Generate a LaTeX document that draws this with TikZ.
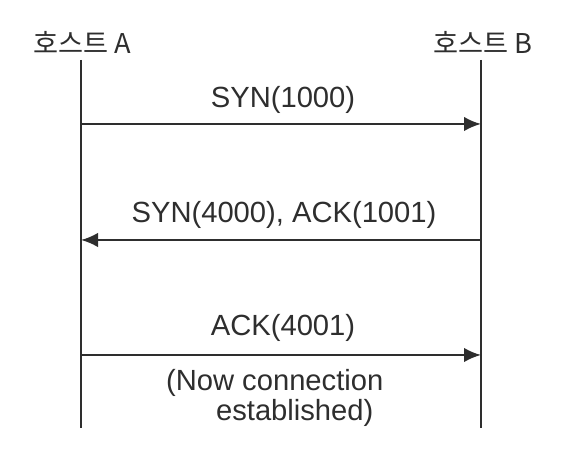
\documentclass[tikz,border=0pt]{standalone}
\usepackage{fontspec}
\setmainfont{Liberation Sans}
\newfontfamily\kr{Noto Sans CJK KR}
\usepackage{tikz}
\usetikzlibrary{arrows.meta,positioning}

\definecolor{inkgray}{HTML}{2E2E2E}

\begin{document}
\begin{tikzpicture}[
    hostlabel/.style={text=inkgray, inner sep=1pt, font=\kr\fontsize{15.5}{17}\selectfont},
    msglabel/.style={text=inkgray, inner sep=1pt, font=\fontsize{16.6}{17.5}\selectfont},
    lifeline/.style={draw=inkgray, line width=1.2pt},
    myedge/.style={-{Latex[length=3.4mm,width=2.9mm]}, draw=inkgray, line width=1.2pt}
]
\useasboundingbox (0,0) rectangle (11.34,9.24);

% hosts and their lines
\node[hostlabel] (hostA) at (1.64,8.40) {호스트 A};
\node[hostlabel] (hostB) at (9.66,8.40) {호스트 B};
\coordinate (aTop) at (1.62,8.04);
\coordinate (aBot) at (1.62,0.68);
\coordinate (bTop) at (9.62,8.04);
\coordinate (bBot) at (9.62,0.68);
\draw[lifeline] (aTop) -- (aBot);
\draw[lifeline] (bTop) -- (bBot);

% message ends
\coordinate (a1) at (1.62,6.76);
\coordinate (b1) at (9.62,6.76);
\coordinate (a2) at (1.62,4.44);
\coordinate (b2) at (9.62,4.44);
\coordinate (a3) at (1.62,2.14);
\coordinate (b3) at (9.62,2.14);

\node[msglabel] (syn) at (5.66,7.24) {SYN(1000)};
\node[msglabel] (synack) at (5.68,4.94) {SYN(4000), ACK(1001)};
\node[msglabel] (ack) at (5.66,2.68) {ACK(4001)};
\node[msglabel, align=left, anchor=north west] (note) at (3.28,1.90)
    {(Now connection\\\hspace*{1.0cm}established)};

\draw[myedge] (a1) -- (b1);
\draw[myedge] (b2) -- (a2);
\draw[myedge] (a3) -- (b3);
\end{tikzpicture}
\end{document}
